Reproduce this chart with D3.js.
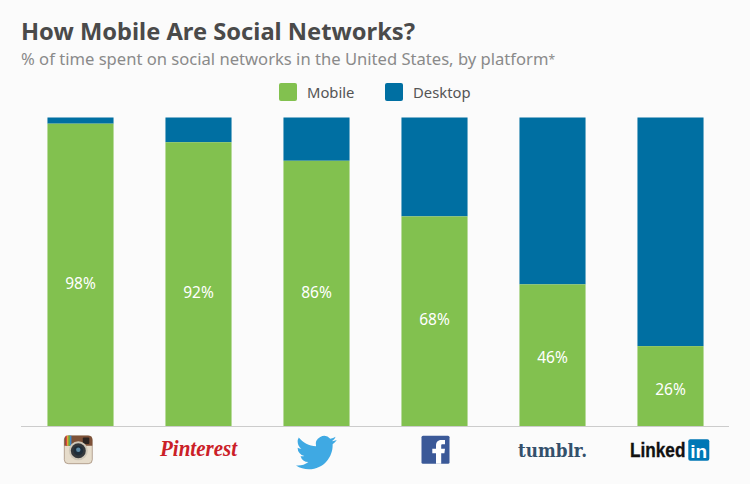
<!DOCTYPE html>
<html>
<head>
<meta charset="utf-8">
<script src="https://cdn.jsdelivr.net/npm/d3@7"></script>
<style>
  html, body { margin: 0; padding: 0; background: #fbfbfb; }
  svg { display: block; }
  text { font-family: "Noto Sans", sans-serif; }
</style>
</head>
<body>
<svg id="chart" width="750" height="484"></svg>
<script>
/* Data */
const platforms = ["Instagram", "Pinterest", "Twitter", "Facebook", "Tumblr", "LinkedIn"];
const mobile    = [98, 92, 86, 68, 46, 26];
const desktop   = [2, 8, 14, 32, 54, 74];
const seriesNames = ["Mobile", "Desktop"];

const GREEN = "#82c14f", BLUE = "#006fa2";

const svg = d3.select("#chart");
svg.append("rect").attr("width", 750).attr("height", 484).attr("fill", "#fbfbfb");

/* Scales */
const x = d3.scaleBand().domain(platforms).range([21.5, 729.5]).paddingInner(0.44).paddingOuter(0.22);
const y = d3.scaleLinear().domain([0, 100]).range([426.5, 117.5]);

/* Title block */
svg.append("text").attr("x", 21).attr("y", 40)
  .attr("font-size", 23.7).attr("font-weight", 700).attr("fill", "#4a4a4a")
  .text("How Mobile Are Social Networks?");
const sub = svg.append("text").attr("x", 21).attr("y", 65)
  .attr("font-size", 16.6).attr("fill", "#8a8a8a")
  .text("% of time spent on social networks in the United States, by platform");
sub.append("tspan").attr("font-size", 12).attr("dy", -1).text("*");

/* Legend */
const legendX = [279, 385];
seriesNames.forEach((name, i) => {
  svg.append("rect").attr("x", legendX[i]).attr("y", 83).attr("width", 18).attr("height", 18)
    .attr("rx", 2).attr("fill", i ? BLUE : GREEN);
  svg.append("text").attr("x", legendX[i] + 28).attr("y", 98)
    .attr("font-size", 14.8).attr("fill", "#555").text(name);
});

/* Stacked bars: desktop on top of mobile */
const bars = svg.append("g").selectAll("g").data(platforms).join("g");
bars.append("rect")
  .attr("x", d => x(d)).attr("width", x.bandwidth())
  .attr("y", (d, i) => y(mobile[i] + desktop[i])).attr("height", (d, i) => y(mobile[i]) - y(mobile[i] + desktop[i]))
  .attr("fill", BLUE);
bars.append("rect")
  .attr("x", d => x(d)).attr("width", x.bandwidth())
  .attr("y", (d, i) => y(mobile[i])).attr("height", (d, i) => y(0) - y(mobile[i]))
  .attr("fill", GREEN);

/* Value labels sit a little off the segment centre in the original */
const labelNudge = [9, 9, -1, -1, 3, 4];
bars.append("text")
  .attr("x", d => x(d) + x.bandwidth() / 2)
  .attr("y", (d, i) => (y(mobile[i]) + y(0)) / 2 + labelNudge[i] + 5)
  .attr("text-anchor", "middle").attr("font-size", 15.5).attr("fill", "#fff")
  .text((d, i) => mobile[i] + "%");

/* Baseline */
svg.append("line").attr("x1", 21).attr("x2", 729).attr("y1", 426.5).attr("y2", 426.5)
  .attr("stroke", "#ccc").attr("stroke-width", 1);

/* Logos below the axis, one group per platform centred on its band */
const logo = (d, dx = 0) => svg.append("g").attr("transform", `translate(${x(d) + x.bandwidth() / 2 + dx},449.7)`);

// Instagram
const ig = logo("Instagram", -2.2);
ig.append("rect").attr("x", -14).attr("y", -14).attr("width", 28).attr("height", 28).attr("rx", 4).attr("fill", "#e6dccb").attr("stroke", "#7a5c45").attr("stroke-width", 0.5);
ig.append("path").attr("d", "M-14,-10 a4,4 0 0 1 4,-4 h20 a4,4 0 0 1 4,4 v6 h-28 z").attr("fill", "#7d5138");
["#d9453c", "#f2c230", "#5bb04f", "#3f86c6"].forEach((c, i) =>
  ig.append("rect").attr("x", -12.5 + i * 1.4).attr("y", -14).attr("width", 1.4).attr("height", 10).attr("fill", c));
ig.append("rect").attr("x", 4.5).attr("y", -12.3).attr("width", 6.5).attr("height", 6.5).attr("rx", 1).attr("fill", "#2c2420");
ig.append("circle").attr("r", 9.5).attr("cy", 1).attr("fill", "#cfc7b8");
ig.append("circle").attr("r", 7.5).attr("cy", 1).attr("fill", "#33373b");
ig.append("circle").attr("r", 4.8).attr("cy", 1).attr("fill", "#1f2d3a");
ig.append("circle").attr("r", 2.2).attr("cy", 0).attr("fill", "#5d8aa6");

// Pinterest
logo("Pinterest").append("text").attr("y", 6.5).attr("text-anchor", "middle")
  .attr("textLength", 77).attr("lengthAdjust", "spacingAndGlyphs")
  .attr("font-size", 24).attr("font-weight", 700).attr("font-style", "italic")
  .style("font-family", "'Liberation Serif', serif").attr("fill", "#cb2027").text("Pinterest");

// Twitter
logo("Twitter").append("path")
  .attr("transform", "translate(-20.5,-17.5) scale(1.7)")
  .attr("fill", "#3fa9e3")
  .attr("d", "M23.953 4.57a10 10 0 01-2.825.775 4.958 4.958 0 002.163-2.723c-.951.555-2.005.959-3.127 1.184a4.92 4.92 0 00-8.384 4.482C7.69 8.095 4.067 6.13 1.64 3.162a4.822 4.822 0 00-.666 2.475c0 1.71.87 3.213 2.188 4.096a4.904 4.904 0 01-2.228-.616v.06a4.923 4.923 0 003.946 4.827 4.996 4.996 0 01-2.212.085 4.936 4.936 0 004.604 3.417 9.867 9.867 0 01-6.102 2.105c-.39 0-.779-.023-1.17-.067a13.995 13.995 0 007.557 2.209c9.053 0 13.998-7.496 13.998-13.985 0-.21 0-.42-.015-.63A9.935 9.935 0 0024 4.59z");

// Facebook
const fb = logo("Facebook", 1);
fb.append("rect").attr("x", -14).attr("y", -14).attr("width", 28).attr("height", 28).attr("rx", 1.5).attr("fill", "#3b5998");
fb.append("path").attr("fill", "#fff")
  .attr("d", "M0.5,14 V3.5 H-3.2 V-1 H0.5 V-4 C0.5,-8 3,-9.6 6,-9.6 H9.5 V-5.4 H7.2 C6,-5.4 5.7,-5 5.7,-3.8 V-1 H9.5 L8.9,3.5 H5.7 V14 Z");

// Tumblr
logo("Tumblr").append("text").attr("y", 7).attr("text-anchor", "middle")
  .attr("textLength", 69).attr("lengthAdjust", "spacingAndGlyphs")
  .attr("font-size", 19).attr("font-weight", 700)
  .style("font-family", "'DejaVu Serif', serif").attr("fill", "#34506b").text("tumblr.");

// LinkedIn
const li = logo("LinkedIn");
li.append("text").attr("transform", "translate(-40.5,7.3) scale(1,1.13)")
  .attr("font-size", 17.2).attr("font-weight", 700)
  .attr("stroke", "#111").attr("stroke-width", 0.3)
  .style("font-family", "'Liberation Sans', sans-serif").attr("fill", "#111").text("Linked");
li.append("rect").attr("x", 17.8).attr("y", -10.5).attr("width", 21).attr("height", 21.5).attr("rx", 2).attr("fill", "#0077b5");
li.append("text").attr("x", 28.3).attr("y", 8).attr("text-anchor", "middle")
  .attr("font-size", 19).attr("font-weight", 700)
  .style("font-family", "'Liberation Sans', sans-serif").attr("fill", "#fff").text("in");
</script>
</body>
</html>
